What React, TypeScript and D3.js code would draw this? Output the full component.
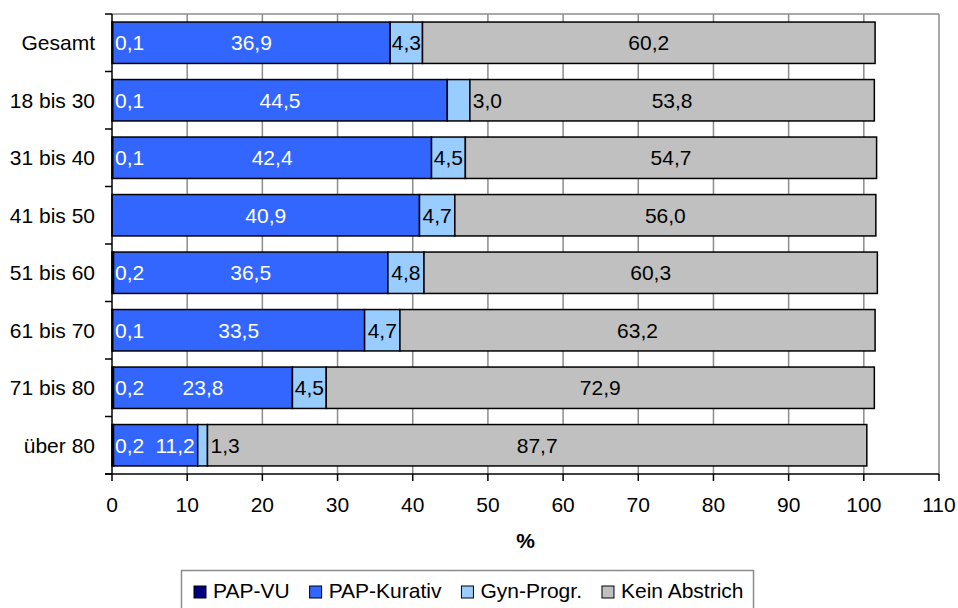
import React from "react";
import * as d3 from "d3";

// Age groups (top to bottom)
const categories = [
  "Gesamt",
  "18 bis 30",
  "31 bis 40",
  "41 bis 50",
  "51 bis 60",
  "61 bis 70",
  "71 bis 80",
  "über 80",
];

// Shares in percent per series
const papVU = [0.1, 0.1, 0.1, 0, 0.2, 0.1, 0.2, 0.2];
const papKurativ = [36.9, 44.5, 42.4, 40.9, 36.5, 33.5, 23.8, 11.2];
const gynProgr = [4.3, 3.0, 4.5, 4.7, 4.8, 4.7, 4.5, 1.3];
const keinAbstrich = [60.2, 53.8, 54.7, 56.0, 60.3, 63.2, 72.9, 87.7];

const seriesNames = ["PAP-VU", "PAP-Kurativ", "Gyn-Progr.", "Kein Abstrich"];
const seriesColors = ["#000080", "#3366FF", "#99CCFF", "#C0C0C0"];
const labelColors = ["#ffffff", "#ffffff", "#000000", "#000000"];

const xTicks = [0, 10, 20, 30, 40, 50, 60, 70, 80, 90, 100, 110];
const axisTitle = "%";

const W = 958;
const H = 608;
const FONT = "'Liberation Sans', Arial, sans-serif";
const FS = 21;

const plot = { left: 112, right: 939, top: 14, bottom: 474 };

let ctx: CanvasRenderingContext2D | null = null;
function textWidth(s: string, weight = "normal"): number {
  if (!ctx) ctx = document.createElement("canvas").getContext("2d");
  if (!ctx) return s.length * FS * 0.55;
  ctx.font = `${weight} ${FS}px ${FONT}`;
  return ctx.measureText(s).width;
}

const fmt = (v: number) => d3.format(".1f")(v).replace(".", ",");

export default function App() {
  const x = d3.scaleLinear().domain([0, 110]).range([plot.left, plot.right]);
  const y = d3
    .scaleBand<string>()
    .domain(categories)
    .range([plot.top, plot.bottom])
    .paddingInner(0.28)
    .paddingOuter(0.14);
  const band = d3.scaleBand<string>().domain(categories).range([plot.top, plot.bottom]);

  const table = categories.map((c, i) => ({
    cat: c,
    vals: [papVU[i], papKurativ[i], gynProgr[i], keinAbstrich[i]],
  }));

  const stack = d3
    .stack<{ cat: string; vals: number[] }, number>()
    .keys([0, 1, 2, 3])
    .value((d, k) => d.vals[k]);
  const layers = stack(table);

  const bars: React.ReactNode[] = [];
  const labels: React.ReactNode[] = [];

  categories.forEach((cat, i) => {
    const y0 = y(cat)!;
    const bh = y.bandwidth();
    const cy = band(cat)! + band.bandwidth() / 2;
    const base = cy + FS * 0.36;
    let vuLabelEnd = -Infinity;
    layers.forEach((layer, k) => {
      const [a, b] = layer[i];
      const xa = x(a);
      const xb = x(b);
      bars.push(
        <rect
          key={`b-${k}-${i}`}
          x={xa}
          y={y0}
          width={Math.max(0, xb - xa)}
          height={bh}
          fill={seriesColors[k]}
          stroke="#000"
          strokeWidth={1.5}
        />
      );
      const v = table[i].vals[k];
      if (v <= 0) return;
      const txt = fmt(v);
      const tw = textWidth(txt);
      let lx: number;
      let anchor: "start" | "middle" | "end" = "middle";
      if (k === 0) {
        lx = x(0) + 3;
        anchor = "start";
        vuLabelEnd = lx + tw;
      } else {
        const seg = xb - xa;
        lx = (xa + xb) / 2;
        if (k === 1 && lx - tw / 2 < vuLabelEnd + 8) {
          lx = xb - 3;
          anchor = "end";
        } else if (seg < tw + 2) {
          lx = xb + 3;
          anchor = "start";
        }
      }
      labels.push(
        <text
          key={`l-${k}-${i}`}
          x={lx}
          y={base}
          textAnchor={anchor}
          fill={labelColors[k]}
          fontSize={FS}
          fontFamily={FONT}
        >
          {txt}
        </text>
      );
    });
  });

  // legend layout
  const legendItems: React.ReactNode[] = [];
  let lxPos = 194;
  seriesNames.forEach((name, k) => {
    legendItems.push(
      <g key={`lg-${k}`}>
        <rect
          x={lxPos}
          y={586}
          width={12}
          height={12}
          fill={seriesColors[k]}
          stroke="#000"
          strokeWidth={1}
        />
        <text x={lxPos + 19} y={598} fontSize={FS} fontFamily={FONT} fill="#000">
          {name}
        </text>
      </g>
    );
    lxPos += 19 + textWidth(name) + 20;
  });

  const bandEdges = categories.map((c) => band(c)!).concat([plot.bottom]);

  return (
    <svg width={W} height={H} style={{ position: "absolute", left: 0, top: 0, background: "#fff" }}>
      <rect x={0} y={0} width={W} height={H} fill="#fff" />
      {/* gridlines */}
      {xTicks.slice(1).map((t) => (
        <line
          key={`g-${t}`}
          x1={x(t)}
          x2={x(t)}
          y1={plot.top}
          y2={plot.bottom}
          stroke="#8c8c8c"
          strokeWidth={1.5}
        />
      ))}
      {/* plot frame top */}
      <line x1={plot.left} x2={plot.right} y1={plot.top} y2={plot.top} stroke="#8c8c8c" strokeWidth={1.5} />
      {bars}
      {labels}
      {/* y axis */}
      <line x1={plot.left} x2={plot.left} y1={plot.top} y2={plot.bottom} stroke="#000" strokeWidth={1.5} />
      {bandEdges.map((e, i) => (
        <line key={`yt-${i}`} x1={plot.left - 7} x2={plot.left} y1={e} y2={e} stroke="#000" strokeWidth={1.5} />
      ))}
      {categories.map((c) => (
        <text
          key={`yl-${c}`}
          x={95}
          y={band(c)! + band.bandwidth() / 2 + FS * 0.36}
          textAnchor="end"
          fontSize={FS}
          fontFamily={FONT}
          fill="#000"
        >
          {c}
        </text>
      ))}
      {/* x axis */}
      <line x1={plot.left - 7} x2={plot.right} y1={plot.bottom} y2={plot.bottom} stroke="#000" strokeWidth={1.5} />
      {xTicks.map((t) => (
        <g key={`xt-${t}`}>
          <line x1={x(t)} x2={x(t)} y1={plot.bottom} y2={plot.bottom + 7} stroke="#000" strokeWidth={1.5} />
          <text x={x(t)} y={512} textAnchor="middle" fontSize={FS} fontFamily={FONT} fill="#000">
            {t}
          </text>
        </g>
      ))}
      <text
        x={(plot.left + plot.right) / 2}
        y={548}
        textAnchor="middle"
        fontSize={FS}
        fontWeight="bold"
        fontFamily={FONT}
        fill="#000"
      >
        {axisTitle}
      </text>
      {/* legend */}
      <rect x={181.5} y={570.5} width={572} height={50} fill="#fff" stroke="#8c8c8c" strokeWidth={1.5} />
      {legendItems}
    </svg>
  );
}
